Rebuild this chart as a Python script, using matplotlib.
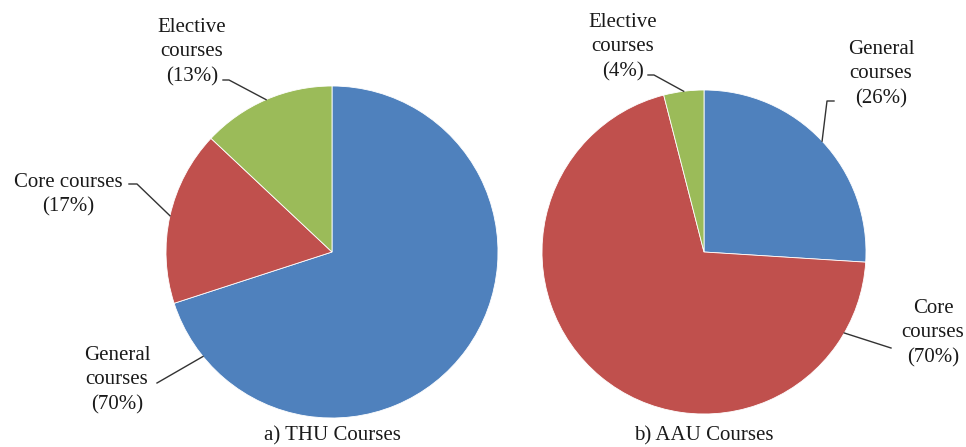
import numpy as np
import matplotlib.pyplot as plt

plt.rcParams['font.family'] = ['Liberation Serif', 'DejaVu Serif']

categories = ['General\ncourses', 'Core courses', 'Elective\ncourses']
thu_share = [70, 17, 13]
aau_share = [26, 70, 4]
colors = ['#4F81BD', '#C0504D', '#9BBB59']

W, H = 966, 447
fig = plt.figure(figsize=(W / 100, H / 100), dpi=100)
ax = fig.add_axes([0, 0, 1, 1])


def py(y):
    # pixel row (top-down) -> data y
    return H - y


def draw_pie(values, cx, cy, r):
    wedges, _ = ax.pie(values, colors=colors, startangle=90, counterclock=False,
                       center=(cx, py(cy)), radius=r,
                       wedgeprops=dict(edgecolor='white', linewidth=0.6))
    return wedges


def edge_point(cx, cy, r, ang):
    a = np.deg2rad(ang)
    return cx + r * np.cos(a), py(cy) + r * np.sin(a)


def label(text, x, y, pts, tip):
    ax.text(x, py(y), text, ha='center', va='center', fontsize=15,
            color='#1a1a1a', linespacing=1.4)
    xs = [p[0] for p in pts] + [tip[0]]
    ys = [py(p[1]) for p in pts] + [tip[1]]
    ax.plot(xs, ys, color='#333333', lw=1.0)


# a) THU
cx1, cy1, r1 = 332, 252, 166
w1 = draw_pie(thu_share, cx1, cy1, r1)
mid1 = [(w.theta1 + w.theta2) / 2 for w in w1]
label(f"{categories[2]}\n({thu_share[2]}%)", 192, 52,
      [(223, 80), (229, 80)], edge_point(cx1, cy1, r1, mid1[2]))
label(f"{categories[1]}\n({thu_share[1]}%)", 68, 195,
      [(129, 184), (137, 184)], edge_point(cx1, cy1, r1, mid1[1]))
label(f"{categories[0]}\n({thu_share[0]}%)", 117, 380,
      [(157, 383)], edge_point(cx1, cy1, r1, 219))
ax.text(cx1, py(436), 'a) THU Courses', ha='center', va='center',
        fontsize=15, color='#1a1a1a')

# b) AAU
cx2, cy2, r2 = 704, 252, 162
w2 = draw_pie(aau_share, cx2, cy2, r2)
mid2 = [(w.theta1 + w.theta2) / 2 for w in w2]
label(f"{categories[2]}\n({aau_share[2]}%)", 623, 47,
      [(648, 75), (654, 75)], edge_point(cx2, cy2, r2, mid2[2]))
label(f"{categories[0]}\n({aau_share[0]}%)", 881, 74,
      [(834, 101), (827, 101)], edge_point(cx2, cy2, r2, mid2[0]))
label(f"Core\ncourses\n({aau_share[1]}%)", 933, 333,
      [(891, 348)], edge_point(cx2, cy2, r2, -30))
ax.text(cx2, py(436), 'b) AAU Courses', ha='center', va='center',
        fontsize=15, color='#1a1a1a')

ax.set_xlim(0, W)
ax.set_ylim(0, H)
ax.set_aspect('equal')
ax.axis('off')

fig.savefig('out.png', dpi=100)
